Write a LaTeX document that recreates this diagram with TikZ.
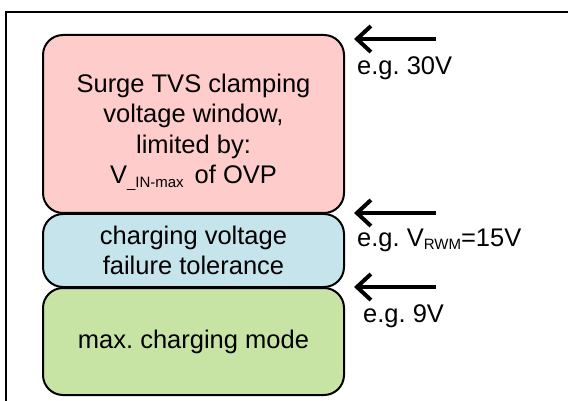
\documentclass[tikz,border=0pt]{standalone}
\usepackage{fontspec}
\setmainfont{Liberation Sans}
\usepackage{xcolor}
\usepackage{tikz}
\usetikzlibrary{positioning,arrows.meta}

\definecolor{surgepink}{RGB}{255,204,204}
\definecolor{toleranceblue}{RGB}{198,228,236}
\definecolor{modegreen}{RGB}{200,228,164}
\newcommand{\lowsub}[1]{\raisebox{-3.5pt}{\fontsize{15}{15}\selectfont #1}}
\frenchspacing

\begin{document}
\begin{tikzpicture}[
  x=1pt, y=-1pt,
  zone/.style={
    draw,
    line width=2pt,
    rounded corners=20pt,
    minimum width=301pt,
    inner sep=0pt
  },
  zonetext/.style={
    align=center,
    inner sep=0pt,
    font=\fontsize{25.5}{30.5}\selectfont
  },
  level/.style={anchor=base west, inner sep=0pt, font=\fontsize{25.5}{30}\selectfont},
  arrow/.style={-{Straight Barb[length=14pt,width=26pt]}, line width=4pt}
]
  \useasboundingbox (0,0) rectangle (568,401);
  \draw[line width=2pt] (6,401) -- (6,12) -- (568,12);

  \node[zone, fill=surgepink, minimum height=178pt] (surge) at (193.5,124) {};
  \node[zone, fill=toleranceblue, minimum height=73pt] (tolerance) at (193.5,250.5) {};
  \node[zone, fill=modegreen, minimum height=107pt] (mode) at (193.5,341.5) {};

  \node[zonetext] (surgetext) at ([yshift=-8pt]surge.center) {Surge TVS clamping\\voltage window,\\limited by:\\V\lowsub{\_IN-max}\hspace{11pt}of OVP};
  \node[zonetext] (tolerancetext) at (tolerance.center) {charging voltage\\failure tolerance};
  \node[zonetext] (modetext) at (mode.center) {max. charging mode};

  \coordinate (tail30) at (436,39);
  \coordinate (tip30) at (354,39);
  \coordinate (tail15) at (436,213);
  \coordinate (tip15) at (354,213);
  \coordinate (tail9) at (436,287);
  \coordinate (tip9) at (354,287);

  \draw[arrow] (tail30) -- (tip30);
  \draw[arrow] (tail15) -- (tip15);
  \draw[arrow] (tail9) -- (tip9);

  \node[level] (v30) at (357,75) {e.g. 30V};
  \node[level] (v15) at (357,246) {e.g. V\lowsub{RWM}=15V};
  \node[level] (v9) at (363,322) {e.g. 9V};
\end{tikzpicture}
\end{document}
